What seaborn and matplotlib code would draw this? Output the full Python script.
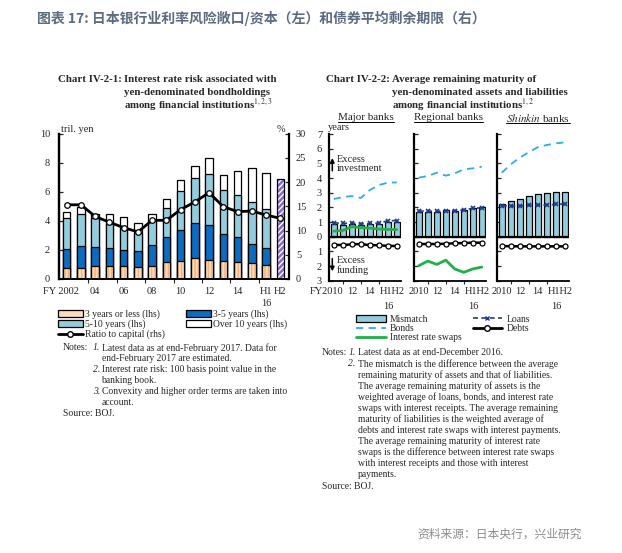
import seaborn as sns
import matplotlib
matplotlib.use("Agg")
import matplotlib.pyplot as plt
import matplotlib.transforms as mtrans
from matplotlib.lines import Line2D
from matplotlib.patches import Patch
from matplotlib.ticker import FuncFormatter
import numpy as np

sns.set_theme(style="ticks")
plt.rcParams['font.family'] = ['Liberation Serif', 'DejaVu Serif']
plt.rcParams['mathtext.fontset'] = 'stix'
plt.rcParams['hatch.linewidth'] = 1.0

W, H = 622, 553
def fx(x): return x / W
def fy(y): return 1 - y / H

# ---- left chart: interest rate risk (tril. yen), ratio to capital (%) ----
years = ['2002', '03', '04', '05', '06', '07', '08', '09', '10', '11', '12', '13', '14', '15', 'H1', 'H2']
le3 = [0.76, 0.76, 0.90, 0.90, 0.92, 0.83, 0.92, 1.15, 1.25, 1.43, 1.29, 1.22, 1.18, 1.09, 0.95]
y3_5 = [1.32, 1.54, 1.30, 1.25, 1.08, 1.09, 1.43, 1.74, 2.14, 2.45, 2.41, 1.90, 1.68, 1.33, 1.20]
y5_10 = [2.10, 2.18, 1.96, 1.71, 1.53, 1.27, 1.65, 2.01, 2.66, 3.07, 3.53, 3.00, 2.91, 2.89, 2.68]
over10 = [0.42, 0.48, 0.30, 0.60, 0.72, 0.66, 0.48, 0.60, 0.72, 0.83, 1.06, 1.06, 1.67, 2.29, 2.47]
h2_total = 6.9  # end-Feb 2017 estimate
ratio = [15.3, 15.3, 12.9, 11.7, 10.6, 9.7, 12.1, 12.1, 14.3, 15.9, 17.8, 14.9, 13.9, 14.0, 13.2, 12.5]
left_xlabels = ['FY 2002', '04', '06', '08', '10', '12', '14', 'H1', 'H2']

# ---- right chart: average remaining maturity (years) ----
fy_labels = ['2010', '11', '12', '13', '14', '15', 'H1', 'H2']
major_mismatch = [0.86, 0.80, 0.86, 0.80, 0.84, 0.89, 1.02, 1.00]
major_loans = [0.95, 0.90, 0.93, 0.87, 0.90, 0.93, 1.08, 1.10]
major_bonds = [2.57, 2.70, 2.77, 2.64, 3.18, 3.52, 3.68, 3.70]
major_swaps = [0.38, 0.42, 0.68, 0.62, 0.58, 0.52, 0.50, 0.48]
major_debts = [-0.55, -0.57, -0.52, -0.50, -0.58, -0.58, -0.63, -0.63]

regional_mismatch = [1.70, 1.70, 1.70, 1.80, 1.77, 1.82, 1.95, 2.02]
regional_loans = [1.75, 1.75, 1.72, 1.78, 1.78, 1.83, 1.93, 1.97]
regional_bonds = [4.02, 4.14, 4.36, 4.16, 4.32, 4.59, 4.66, 4.77]
regional_swaps = [-1.98, -1.66, -1.89, -1.60, -2.20, -2.43, -2.20, -2.07]
regional_debts = [-0.50, -0.50, -0.50, -0.48, -0.45, -0.43, -0.41, -0.41]

shinkin_mismatch = [2.23, 2.43, 2.60, 2.75, 2.90, 2.95, 3.02, 3.05]
shinkin_loans = [2.11, 2.09, 2.09, 2.14, 2.14, 2.16, 2.20, 2.23]
shinkin_bonds = [4.36, 4.93, 5.39, 5.75, 6.10, 6.25, 6.36, 6.43]
shinkin_debts = [-0.64, -0.65, -0.66, -0.66, -0.66, -0.66, -0.66, -0.66]

# colours
c_peach = '#fcdcbc'
c_dblue = '#0b6cc0'
c_lblue = '#93cddd'
c_purple = '#8a6acb'
c_bonds = '#29aee6'
c_swaps = '#1fb04a'
c_loans = '#1f3c88'

fig = plt.figure(figsize=(6.22, 5.53), dpi=100)
fig.patch.set_facecolor('white')

serif = 7.5
# ---------------- left chart ----------------
ax = fig.add_axes([fx(59), fy(279), fx(289) - fx(59), (279 - 133.5) / H])
cum1 = np.array(le3)
cum2 = cum1 + np.array(y3_5)
cum3 = cum2 + np.array(y5_10)
cum4 = cum3 + np.array(over10)
bw = 0.52
common = dict(x=years, ax=ax, width=bw, saturation=1, errorbar=None)
sns.barplot(y=np.append(cum4, np.nan), color='white', edgecolor='black', linewidth=0.9, **common)
sns.barplot(y=np.append(cum3, np.nan), color=c_lblue, edgecolor='black', linewidth=0.9, **common)
sns.barplot(y=np.append(cum2, np.nan), color=c_dblue, edgecolor='black', linewidth=0.9, **common)
sns.barplot(y=np.append(cum1, np.nan), color=c_peach, edgecolor='#f2b07a', hatch='|||||', linewidth=0, **common)
sns.barplot(y=np.append(cum1, np.nan), color='black', fill=False, linewidth=0.9, **common)
h2 = [np.nan] * 15 + [h2_total]
sns.barplot(y=h2, color=c_purple, edgecolor='white', hatch='//////', linewidth=0, **common)
sns.barplot(y=h2, color='black', fill=False, linewidth=0.9, **common)

ax.set_xlim(-0.54, 15.61)
ax.set_ylim(0, 10)
ax.set_yticks(range(0, 11, 2))
ax.set_xticks([0, 2, 4, 6, 8, 10, 12, 14, 15])
ax.set_xticklabels(left_xlabels)
ax.set_xticks(np.arange(1.5, 14, 2), minor=True)
ax.tick_params(axis='x', which='major', length=0, pad=5.5, labelsize=serif)
ax.tick_params(axis='x', which='minor', length=3, direction='out', width=0.8)
ax.tick_params(axis='y', direction='in', length=3, width=0.9, pad=6.5, labelsize=serif)
lbl = ax.get_xticklabels()[0]
lbl.set_transform(lbl.get_transform() + mtrans.ScaledTranslation(-6 / 100, 0, fig.dpi_scale_trans))
ax.annotate('16', xy=(14, 0), xycoords=ax.get_xaxis_transform(), xytext=(0, -18),
            textcoords='offset points', ha='center', va='center', fontsize=serif)
ax.set_xlabel('')
ax.set_ylabel('')

ax2 = ax.twinx()
sns.lineplot(x=np.arange(len(years)), y=ratio, ax=ax2, color='black', linewidth=2, marker='o',
             markersize=4, markerfacecolor='white', markeredgecolor='black', markeredgewidth=0.9)
ax2.set_ylim(0, 30)
ax2.set_yticks(range(0, 31, 5))
ax2.tick_params(axis='y', direction='in', length=3, width=0.9, pad=5, labelsize=serif)
ax2.set_xlim(-0.54, 15.61)
for a in (ax, ax2):
    a.spines['top'].set_visible(False)
    a.spines['left'].set_linewidth(1.6)
    a.spines['right'].set_linewidth(1.6)
    a.spines['bottom'].set_linewidth(1.3)
    for s in a.spines.values():
        s.set_color('black')
ax.spines['right'].set_visible(False)
ax2.set_xlabel('')
ax2.set_ylabel('')

fig.text(fx(61), fy(130), 'tril. yen', fontsize=serif, va='center')
fig.text(fx(285), fy(130), '%', fontsize=serif, va='center', ha='right')

# ---------------- right chart ----------------
panels = [
    ('Major banks', major_mismatch, major_loans, major_bonds, major_swaps, major_debts, 329),
    ('Regional banks', regional_mismatch, regional_loans, regional_bonds, regional_swaps, regional_debts, 414),
    (r'$\mathit{Shinkin}$ banks', shinkin_mismatch, shinkin_loans, shinkin_bonds, None, shinkin_debts, 497),
]
pw = 72
title_x = {329: 366, 414: 448, 497: 538}
title_objs = []
for name, mm, loans, bonds, swaps, debts, left in panels:
    pa = fig.add_axes([fx(left), fy(280.7), pw / W, (280.7 - 134) / H])
    sns.barplot(x=fy_labels, y=mm, ax=pa, color=c_lblue, edgecolor='black', linewidth=0.9,
                width=0.66, saturation=1, errorbar=None)
    xs = np.arange(len(fy_labels))
    sns.lineplot(x=xs, y=bonds, ax=pa, color=c_bonds, linewidth=1.3, linestyle=(0, (4, 3)))
    if swaps is not None:
        sns.lineplot(x=xs, y=swaps, ax=pa, color=c_swaps, linewidth=2)
    sns.lineplot(x=xs, y=loans, ax=pa, color=c_loans, linewidth=1.2, linestyle=(0, (3, 2)),
                 marker='x', markersize=3.5, markeredgewidth=1.2, markeredgecolor=c_loans)
    sns.lineplot(x=xs, y=debts, ax=pa, color='black', linewidth=1.8, marker='o', markersize=3.6,
                 markerfacecolor='white', markeredgecolor='black', markeredgewidth=0.9)
    pa.axhline(0, color='black', linewidth=1.6, zorder=1.5)
    pa.set_xlim(-0.53, 7.47)
    pa.set_ylim(-3, 7)
    pa.set_yticks(range(-3, 8))
    pa.yaxis.set_major_formatter(FuncFormatter(lambda v, p: f'{abs(int(round(v)))}'))
    first = 'FY2010' if left == 329 else '2010'
    pa.set_xticks([0, 2, 4, 6.5])
    pa.set_xticklabels([first, '12', '14', 'H1H2'])
    pa.set_xticks([1, 3, 5], minor=True)
    pa.tick_params(axis='x', which='major', length=0, pad=4.8, labelsize=serif)
    pa.tick_params(axis='x', which='minor', length=2.5, direction='out', width=0.8)
    pa.tick_params(axis='y', direction='in', length=3, width=0.9, pad=5, labelsize=serif,
                   labelleft=(left == 329))
    if left == 329:
        lb = pa.get_xticklabels()[0]
        lb.set_transform(lb.get_transform() + mtrans.ScaledTranslation(-7 / 100, 0, fig.dpi_scale_trans))
    pa.annotate('16', xy=(6.1, 0), xycoords=pa.get_xaxis_transform(), xytext=(0, -18.5),
                textcoords='offset points', ha='center', va='center', fontsize=serif)
    pa.spines['top'].set_visible(False)
    pa.spines['right'].set_visible(False)
    pa.spines['left'].set_linewidth(1.6)
    pa.spines['bottom'].set_linewidth(1.3)
    for s in pa.spines.values():
        s.set_color('black')
    pa.set_xlabel('')
    pa.set_ylabel('')
    t = fig.text(fx(title_x[left]), fy(117.5), name, fontsize=8, ha='center', va='center')
    title_objs.append(t)
    if left == 329:
        bt = mtrans.blended_transform_factory(pa.transAxes, pa.transData)
        pa.annotate('', xy=(0.046, 5.55), xytext=(0.046, 4.3), xycoords=bt, textcoords=bt,
                    arrowprops=dict(arrowstyle='-|>', color='black', lw=1.1, mutation_scale=6))
        pa.text(0.105, 4.95, 'Excess\ninvestment', transform=bt, fontsize=serif, va='center', linespacing=1.05)
        pa.annotate('', xy=(0.046, -2.55), xytext=(0.046, -1.3), xycoords=bt, textcoords=bt,
                    arrowprops=dict(arrowstyle='-|>', color='black', lw=1.1, mutation_scale=6))
        pa.text(0.105, -1.98, 'Excess\nfunding', transform=bt, fontsize=serif, va='center', linespacing=1.05)

fig.text(fx(328), fy(127.5), 'years', fontsize=serif, va='center')

# ---------------- titles ----------------
fig.text(fx(37), fy(18), '图表 17: 日本银行业利率风险敞口/资本（左）和债券平均剩余期限（右）',
         family=['Noto Sans CJK SC', 'DejaVu Sans'], fontsize=10, fontweight='bold',
         color='#5b6b82', va='center')
fig.text(fx(582), fy(534), '资料来源：日本央行，兴业研究', family=['Noto Sans CJK SC', 'DejaVu Sans'],
         fontsize=8.5, color='#8c8c8c', ha='right', va='center')

tkw = dict(fontsize=7.8, fontweight='bold', va='center')
fig.text(fx(122), fy(80), 'Chart IV-2-1:', ha='right', **tkw)
fig.text(fx(124), fy(80), 'Interest rate risk associated with', **tkw)
fig.text(fx(124), fy(92.5), 'yen-denominated bondholdings', **tkw)
fig.text(fx(124), fy(104.5), r'among financial institutions$^{\mathit{1,2,3}}$', **tkw)
fig.text(fx(390), fy(80), 'Chart IV-2-2:', ha='right', **tkw)
fig.text(fx(392), fy(80), 'Average remaining maturity of', **tkw)
fig.text(fx(392), fy(92.5), 'yen-denominated assets and liabilities', **tkw)
fig.text(fx(392), fy(104.5), r'among financial institutions$^{\mathit{1,2}}$', **tkw)

# ---------------- legends ----------------
nfs = 6.9
lh = [Patch(facecolor=c_peach, edgecolor='black', linewidth=0.9),
      Patch(facecolor=c_lblue, edgecolor='black', linewidth=0.9),
      Line2D([], [], color='black', lw=2, marker='o', markersize=4, markerfacecolor='white'),
      Patch(facecolor=c_dblue, edgecolor='black', linewidth=0.9),
      Patch(facecolor='white', edgecolor='black', linewidth=0.9)]
ll = ['3 years or less (lhs)', '5-10 years (lhs)', 'Ratio to capital (rhs)', '3-5 years (lhs)', 'Over 10 years (lhs)']
fig.legend(lh, ll, loc='upper left', bbox_to_anchor=(fx(58), fy(309.5)), ncol=2, frameon=False,
           fontsize=nfs, handlelength=2.6, handleheight=0.7, handletextpad=0.2, labelspacing=0.05,
           columnspacing=2.2, borderpad=0, borderaxespad=0)

rh = [Patch(facecolor=c_lblue, edgecolor='black', linewidth=0.9),
      Line2D([], [], color=c_bonds, lw=1.3, linestyle=(0, (4, 3))),
      Line2D([], [], color=c_swaps, lw=2),
      Line2D([], [], color=c_loans, lw=1.2, linestyle=(0, (3, 2)), marker='x', markersize=3.5),
      Line2D([], [], color='black', lw=2, marker='o', markersize=4, markerfacecolor='white')]
rl = ['Mismatch', 'Bonds', 'Interest rate swaps', 'Loans', 'Debts']
fig.legend(rh, rl, loc='upper left', bbox_to_anchor=(fx(356), fy(314.5)), ncol=2, frameon=False,
           fontsize=nfs, handlelength=3.1, handleheight=0.7, handletextpad=0.42, labelspacing=0.05,
           columnspacing=1.15, borderpad=0, borderaxespad=0)

# ---------------- notes ----------------
def note_lines(lines, x_num, x_text, y0, dy):
    for i, (num, txt) in enumerate(lines):
        y = fy(y0 + i * dy)
        if num:
            fig.text(fx(x_num), y, num, fontsize=nfs, va='center', style='italic')
        fig.text(fx(x_text), y, txt, fontsize=nfs, va='center')

left_notes = [
    ('1.', 'Latest data as at end-February 2017. Data for'),
    ('', 'end-February 2017 are estimated.'),
    ('2.', 'Interest rate risk: 100 basis point value in the'),
    ('', 'banking book.'),
    ('3.', 'Convexity and higher order terms are taken into'),
    ('', 'account.'),
]
fig.text(fx(62.7), fy(347.7), 'Notes:', fontsize=nfs, va='center')
note_lines(left_notes, 93, 101.5, 347.7, 10.9)
fig.text(fx(62.7), fy(413.5), 'Source: BOJ.', fontsize=nfs, va='center')

right_notes = [
    ('1.', 'Latest data as at end-December 2016.'),
    ('2.', 'The mismatch is the difference between the average'),
    ('', 'remaining maturity of assets and that of liabilities.'),
    ('', 'The average remaining maturity of assets is the'),
    ('', 'weighted average of loans, bonds, and interest rate'),
    ('', 'swaps with interest receipts. The average remaining'),
    ('', 'maturity of liabilities is the weighted average of'),
    ('', 'debts and interest rate swaps with interest payments.'),
    ('', 'The average remaining maturity of interest rate'),
    ('', 'swaps is the difference between interest rate swaps'),
    ('', 'with interest receipts and those with interest'),
    ('', 'payments.'),
]
fig.text(fx(321.7), fy(352.7), 'Notes:', fontsize=nfs, va='center')
note_lines(right_notes, 348.5, 357.5, 352.7, 11.1)
fig.text(fx(321.7), fy(486.5), 'Source: BOJ.', fontsize=nfs, va='center')

# underline the panel titles
fig.canvas.draw()
for t in title_objs:
    bb = t.get_window_extent().transformed(fig.transFigure.inverted())
    fig.add_artist(Line2D([bb.x0, bb.x1], [bb.y0 + 0.5 / H, bb.y0 + 0.5 / H], color='black', lw=0.7,
                          transform=fig.transFigure))

fig.savefig('out.png', dpi=100)
